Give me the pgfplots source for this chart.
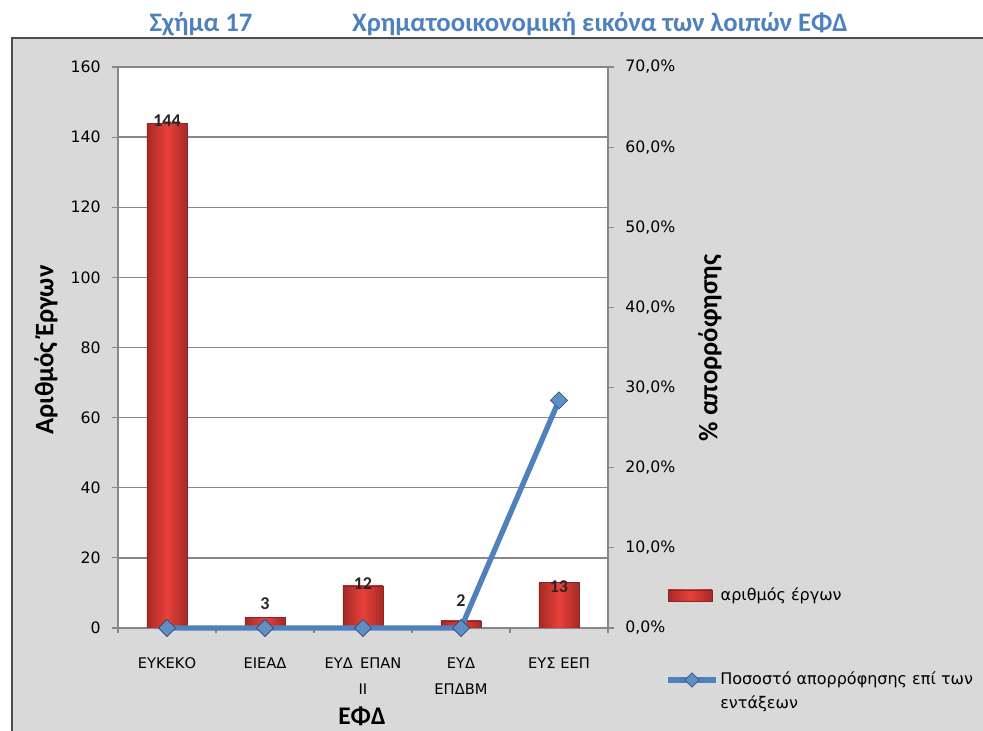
\documentclass[border=0pt]{standalone}
\usepackage{pgfplots}
\pgfplotsset{compat=1.18}
\usepackage{pgfplotstable}
\usetikzlibrary{shapes.geometric}
\usepackage{fontspec}
\setmainfont{DejaVu Sans}
\newfontfamily\carlito{Carlito}
\definecolor{titleblue}{HTML}{4F81BD}
\definecolor{lineblue}{HTML}{4F81BD}
\definecolor{bardark}{HTML}{A52A27}
\definecolor{barlight}{HTML}{E8403A}
\definecolor{chartbg}{HTML}{D9D9D9}
\definecolor{gridgray}{HTML}{878787}

\pgfplotstableread{
x y off
0 144 2
1 3 14
2 12 2
3 2 20
4 13 -4
}\barsdata

\pgfplotstableread{
x p
0 0
1 0
2 0
3 0
4 28.4
}\linedata

\begin{document}
\begin{tikzpicture}[x=0.75pt,y=0.75pt]
\useasboundingbox (0,0) rectangle (983,731);
\fill[white] (0,0) rectangle (983,731);
\fill[chartbg] (12,0) rectangle (983,693);
\draw[gray!60!black,line width=0.8pt] (12,0) -- (12,693) -- (983,693);
\fill[white] (118,103) rectangle (608,664);

% titles
\node[font=\carlito\bfseries\fontsize{20}{24}\selectfont,text=titleblue] at (201,707) {Σχήμα 17};
\node[font=\carlito\bfseries\fontsize{20}{24}\selectfont,text=titleblue] at (600,707) {Χρηματοοικονομική εικόνα των λοιπών ΕΦΔ};

\begin{axis}[
  at={(88.5pt,77.25pt)}, anchor=south west,
  width=367.5pt, height=420.75pt, scale only axis,
  xmin=-0.5, xmax=4.5, ymin=0, ymax=160,
  ytick={0,20,...,160},
  xtick={0,1,2,3,4},
  xticklabels={ΕΥΚΕΚΟ,ΕΙΕΑΔ,ΕΥΔ\enspace ΕΠΑΝ\\ΙΙ,ΕΥΔ\\ΕΠΔΒΜ,ΕΥΣ ΕΕΠ},
  x tick label style={align=center,font=\fontsize{11}{19.5}\selectfont,yshift=-14pt},
  y tick label style={font=\fontsize{11.8}{12}\selectfont,xshift=-5pt},
  /pgf/number format/assume math mode=true,
  major x tick style={draw=none},
  minor xtick={-0.5,0.5,...,4.5},
  tick align=outside,
  major tick length=4.5pt, minor tick length=4pt,
  tick style={gridgray,line width=0.8pt},
  axis x line*=bottom, axis y line*=left,
  axis line style={gridgray,line width=1pt,-},
  ymajorgrids, grid style={gridgray,line width=1pt},
  nodes near coords,
  visualization depends on={\thisrow{off}\as\off},
  every node near coord/.append style={anchor=center,yshift=\off*0.75pt,
     font=\carlito\bfseries\fontsize{13.5}{14}\selectfont,text=black!85},
]
\pgfplotsinvokeforeach{0,...,4}{
\addplot[ybar, bar width=30pt, bar shift=0pt, draw=bardark!85!black,
  left color=bardark, right color=bardark, middle color=barlight,
  restrict x to domain=#1:#1]
  table[x=x,y=y] {\barsdata};
}
\end{axis}

\begin{axis}[
  at={(88.5pt,77.25pt)}, anchor=south west,
  width=367.5pt, height=420.75pt, scale only axis,
  xmin=-0.5, xmax=4.5, ymin=0, ymax=70,
  ytick={0,10,...,70},
  axis x line=none, axis y line*=right,
  axis line style={gridgray,line width=1pt,-},
  tick align=outside, major tick length=4.5pt,
  tick style={gridgray,line width=0.8pt},
  yticklabel={\pgfmathprintnumber{\tick}\%},
  y tick label style={font=\fontsize{11.8}{12}\selectfont,xshift=5pt,
    /pgf/number format/.cd,fixed,fixed zerofill,precision=1,use comma,assume math mode=true},
  clip=false,
]
\addplot[lineblue, line width=4pt, mark=square*,
  mark options={rotate=45,fill=lineblue!90!white,draw=lineblue!65!black,line width=0.6pt,mark size=4.5pt}]
  table[x=x,y=p] {\linedata};
\end{axis}

% axis titles
\node[rotate=90,font=\carlito\bfseries\fontsize{20}{24}\selectfont] at (46,381) {Αριθμός Έργων};
\node[rotate=90,font=\carlito\bfseries\fontsize{20}{24}\selectfont] at (710,383) {\% απορρόφησης};
\node[font=\carlito\bfseries\fontsize{19}{24}\selectfont] at (362,15) {ΕΦΔ};

% legend
\shade[left color=bardark,right color=bardark,middle color=barlight] (668,130) rectangle (712,141);
\draw[bardark!85!black,line width=0.5pt] (668,130) rectangle (712,141);
\node[anchor=west,font=\fontsize{12}{14}\selectfont] at (716,135) {αριθμός έργων};
\draw[lineblue,line width=4pt] (668,51) -- (716,51);
\node[diamond,fill=lineblue!90!white,draw=lineblue!65!black,line width=0.5pt,inner sep=0pt,minimum size=11pt] at (692,51) {};
\node[anchor=north west,align=left,font=\fontsize{12}{18}\selectfont,inner sep=0pt] at (720,60) {Ποσοστό απορρόφησης επί των\\εντάξεων};
\end{tikzpicture}
\end{document}
